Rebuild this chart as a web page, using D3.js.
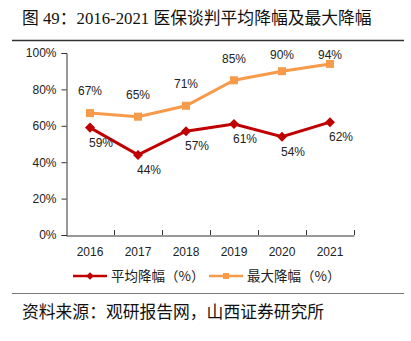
<!DOCTYPE html>
<html>
<head>
<meta charset="utf-8">
<script src="https://cdn.jsdelivr.net/npm/d3@7"></script>
<style>
  body { margin: 0; background: #fff; }
  svg { display: block; }
</style>
</head>
<body>
<div id="chart"></div>
<script>
const years = ['2016', '2017', '2018', '2019', '2020', '2021']
const avgCut = [59, 44, 57, 61, 54, 62]
const maxCut = [67, 65, 71, 85, 90, 94]
const yTicks = [0, 20, 40, 60, 80, 100]
const seriesNames = ['平均降幅（%）', '最大降幅（%）']

const w = 411
const h = 341
const red = '#C00000'
const orange = '#F79A4A'

const svg = d3.select('#chart')
  .append('svg')
  .attr('width', w)
  .attr('height', h)

// title + rules
svg.append('text')
  .attr('x', 22)
  .attr('y', 24)
  .style('font-family', '"Liberation Serif", "Noto Sans CJK SC", serif')
  .style('font-size', '16.8px')
  .style('fill', '#111')
  .text('图 49：2016-2021 医保谈判平均降幅及最大降幅')

svg.append('line')
  .attr('x1', 12).attr('x2', 404)
  .attr('y1', 40.5).attr('y2', 40.5)
  .style('stroke', '#333')
  .style('stroke-width', 1.3)

svg.append('line')
  .attr('x1', 12).attr('x2', 404)
  .attr('y1', 293.5).attr('y2', 293.5)
  .style('stroke', '#777')
  .style('stroke-width', 1)

svg.append('text')
  .attr('x', 22)
  .attr('y', 318)
  .style('font-family', '"Noto Sans CJK SC", sans-serif')
  .style('font-size', '16.8px')
  .style('fill', '#111')
  .text('资料来源：观研报告网，山西证券研究所')

// scales
const x = d3.scaleBand().domain(years).range([66, 354])
const y = d3.scaleLinear().domain([0, 100]).range([235, 53])
const cx = d => x(d) + x.bandwidth() / 2

const font = '"Liberation Sans", Arial, sans-serif'

// y axis
const yAxis = svg.append('g')
  .attr('transform', 'translate(66.5,0)')
  .call(d3.axisLeft(y).tickValues(yTicks).tickFormat(d => d + '%').tickSize(5))
yAxis.select('.domain').style('stroke', '#333')
yAxis.selectAll('line').style('stroke', '#333')
yAxis.selectAll('text')
  .style('font-family', font)
  .style('font-size', '12px')
  .style('fill', '#222')
  .attr('x', -10)

// x axis, ticks between bands pointing inward
const xAxis = svg.append('g')
  .attr('transform', 'translate(0,235.5)')
  .call(d3.axisBottom(x).tickSize(0).tickSizeOuter(0))
xAxis.select('.domain').style('stroke', '#333')
xAxis.selectAll('text')
  .attr('y', 12)
  .style('font-family', font)
  .style('font-size', '12px')
  .style('fill', '#222')
svg.append('g')
  .selectAll('line')
  .data(years)
  .enter()
  .append('line')
  .attr('x1', d => x(d) + x.bandwidth() + 0.5)
  .attr('x2', d => x(d) + x.bandwidth() + 0.5)
  .attr('y1', 235)
  .attr('y2', 230)
  .style('stroke', '#333')

// lines
const line = d3.line().x(d => cx(d[0])).y(d => y(d[1]))

const maxPts = years.map((yr, i) => [yr, maxCut[i]])
const avgPts = years.map((yr, i) => [yr, avgCut[i]])

svg.append('path')
  .attr('d', line(maxPts))
  .style('fill', 'none')
  .style('stroke', orange)
  .style('stroke-width', 3)

svg.selectAll('.sq')
  .data(maxPts)
  .enter()
  .append('rect')
  .attr('class', 'sq')
  .attr('x', d => cx(d[0]) - 4)
  .attr('y', d => y(d[1]) - 4)
  .attr('width', 8)
  .attr('height', 8)
  .style('fill', orange)

svg.append('path')
  .attr('d', line(avgPts))
  .style('fill', 'none')
  .style('stroke', red)
  .style('stroke-width', 3)

const diamond = d3.symbol().type(d3.symbolDiamond2).size(64)
svg.selectAll('.dm')
  .data(avgPts)
  .enter()
  .append('path')
  .attr('class', 'dm')
  .attr('d', diamond)
  .attr('transform', d => 'translate(' + cx(d[0]) + ',' + y(d[1]) + ')')
  .style('fill', red)

// data labels
svg.selectAll('.lmax')
  .data(maxPts)
  .enter()
  .append('text')
  .attr('x', d => cx(d[0]))
  .attr('y', d => Math.max(y(d[1]) - 22, y(100) + 2))
  .attr('dy', '0.35em')
  .attr('text-anchor', 'middle')
  .style('font-family', font)
  .style('font-size', '12px')
  .style('fill', '#222')
  .text(d => d[1] + '%')

svg.selectAll('.lavg')
  .data(avgPts)
  .enter()
  .append('text')
  .attr('x', d => cx(d[0]) + 11)
  .attr('y', d => y(d[1]) + 15)
  .attr('dy', '0.35em')
  .attr('text-anchor', 'middle')
  .style('font-family', font)
  .style('font-size', '12px')
  .style('fill', '#222')
  .text(d => d[1] + '%')

// legend
const legend = svg.append('g').attr('transform', 'translate(0,276)')
const legItems = [
  { name: seriesNames[0], color: red, x: 73, shape: 'diamond' },
  { name: seriesNames[1], color: orange, x: 209, shape: 'square' }
]
legItems.forEach(it => {
  legend.append('line')
    .attr('x1', it.x).attr('x2', it.x + 34)
    .attr('y1', 0).attr('y2', 0)
    .style('stroke', it.color)
    .style('stroke-width', 2.5)
  if (it.shape === 'diamond') {
    legend.append('path')
      .attr('d', d3.symbol().type(d3.symbolDiamond2).size(36))
      .attr('transform', 'translate(' + (it.x + 17) + ',0)')
      .style('fill', it.color)
  } else {
    legend.append('rect')
      .attr('x', it.x + 14).attr('y', -3)
      .attr('width', 6).attr('height', 6)
      .style('fill', it.color)
  }
  legend.append('text')
    .attr('x', it.x + 38)
    .attr('y', 0)
    .attr('dy', '0.36em')
    .style('font-family', '"Noto Sans CJK SC", sans-serif')
    .style('font-size', '13.5px')
    .style('fill', '#222')
    .text(it.name)
})
</script>
</body>
</html>
